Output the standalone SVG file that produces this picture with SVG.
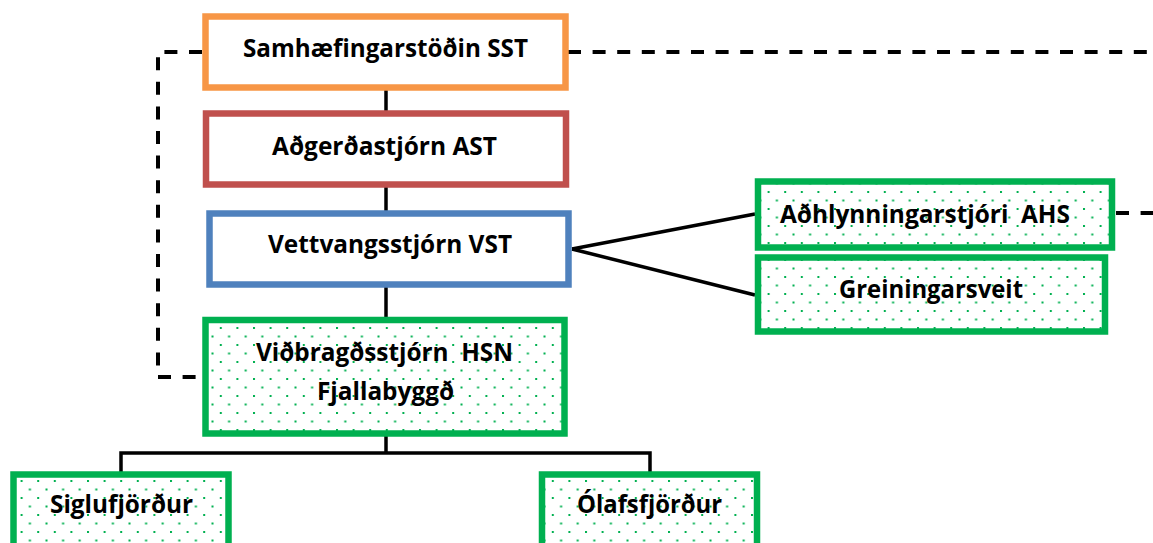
<svg xmlns="http://www.w3.org/2000/svg" width="1153" height="543" viewBox="0 0 1153 543">
  <defs>
    <pattern id="dots" patternUnits="userSpaceOnUse" x="4" y="4" width="16.6" height="17">
      <rect x="0" y="0" width="2" height="2" fill="#00b050"/>
      <rect x="8.3" y="8.5" width="2" height="2" fill="#00b050"/>
    </pattern>
  </defs>
  <style>
    .box { fill: #ffffff; stroke-width: 6.5; }
    .green { fill: url(#dots); stroke: #00b050; }
    .lbl { font-family: "Open Sans", "Liberation Sans", sans-serif; font-weight: bold; font-size: 25px; fill: #000000; text-anchor: middle; white-space: pre; }
    .solid { stroke: #000000; stroke-width: 3.5; fill: none; }
    .dash { stroke: #000000; stroke-width: 4; fill: none; stroke-dasharray: 13 11.6; }
  </style>
  <rect width="1153" height="543" fill="#ffffff"/>
  <g id="connectors">
    <line class="solid" x1="386" y1="90" x2="386" y2="112"/>
    <line class="solid" x1="386" y1="187" x2="386" y2="211"/>
    <line class="solid" x1="386" y1="287" x2="386" y2="318"/>
    <polyline class="solid" points="572,249 755,214"/>
    <polyline class="solid" points="572,249 755,295"/>
    <polyline class="solid" points="386,436 386,453"/>
    <polyline class="solid" points="121,472 121,453 650,453 650,472"/>
    <polyline class="dash" points="202,52 158,52 158,377 202,377"/>
    <line class="dash" x1="568" y1="52" x2="1153" y2="52"/>
    <line class="dash" x1="1116" y1="213" x2="1153" y2="213"/>
  </g>
  <g id="node-sst">
    <rect class="box" x="205.5" y="16.5" width="360" height="71" stroke="#f79646"/>
    <text class="lbl" x="385.5" y="57" textLength="285" lengthAdjust="spacingAndGlyphs">Samhæfingarstöðin SST</text>
  </g>
  <g id="node-ast">
    <rect class="box" x="206" y="113.5" width="360" height="71" stroke="#c0504d"/>
    <text class="lbl" x="384.5" y="155" textLength="225" lengthAdjust="spacingAndGlyphs">Aðgerðastjórn AST</text>
  </g>
  <g id="node-vst">
    <rect class="box" x="209.5" y="213.5" width="359" height="71" stroke="#4f81bd"/>
    <text class="lbl" x="390" y="253" textLength="244" lengthAdjust="spacingAndGlyphs">Vettvangsstjórn VST</text>
  </g>
  <g id="node-hsn">
    <rect class="box green" x="205.5" y="320" width="359" height="113.5"/>
    <text class="lbl" x="384.5" y="361" textLength="257" lengthAdjust="spacingAndGlyphs" xml:space="preserve">Viðbragðsstjórn  HSN</text>
    <text class="lbl" x="385.5" y="400" textLength="137" lengthAdjust="spacingAndGlyphs">Fjallabyggð</text>
  </g>
  <g id="node-ahs">
    <rect class="box green" x="758" y="181.5" width="354" height="66"/>
    <text class="lbl" x="925" y="223" textLength="290" lengthAdjust="spacingAndGlyphs" xml:space="preserve">Aðhlynningarstjóri  AHS</text>
  </g>
  <g id="node-grein">
    <rect class="box green" x="758" y="257.5" width="347" height="74"/>
    <text class="lbl" x="931" y="298" textLength="184" lengthAdjust="spacingAndGlyphs">Greiningarsveit</text>
  </g>
  <g id="node-siglu">
    <rect class="box green" x="13.5" y="474.5" width="215" height="90"/>
    <text class="lbl" x="121.5" y="513" textLength="143" lengthAdjust="spacingAndGlyphs">Siglufjörður</text>
  </g>
  <g id="node-olafs">
    <rect class="box green" x="542" y="474.5" width="215" height="90"/>
    <text class="lbl" x="649.5" y="513" textLength="145" lengthAdjust="spacingAndGlyphs">Ólafsfjörður</text>
  </g>
</svg>
